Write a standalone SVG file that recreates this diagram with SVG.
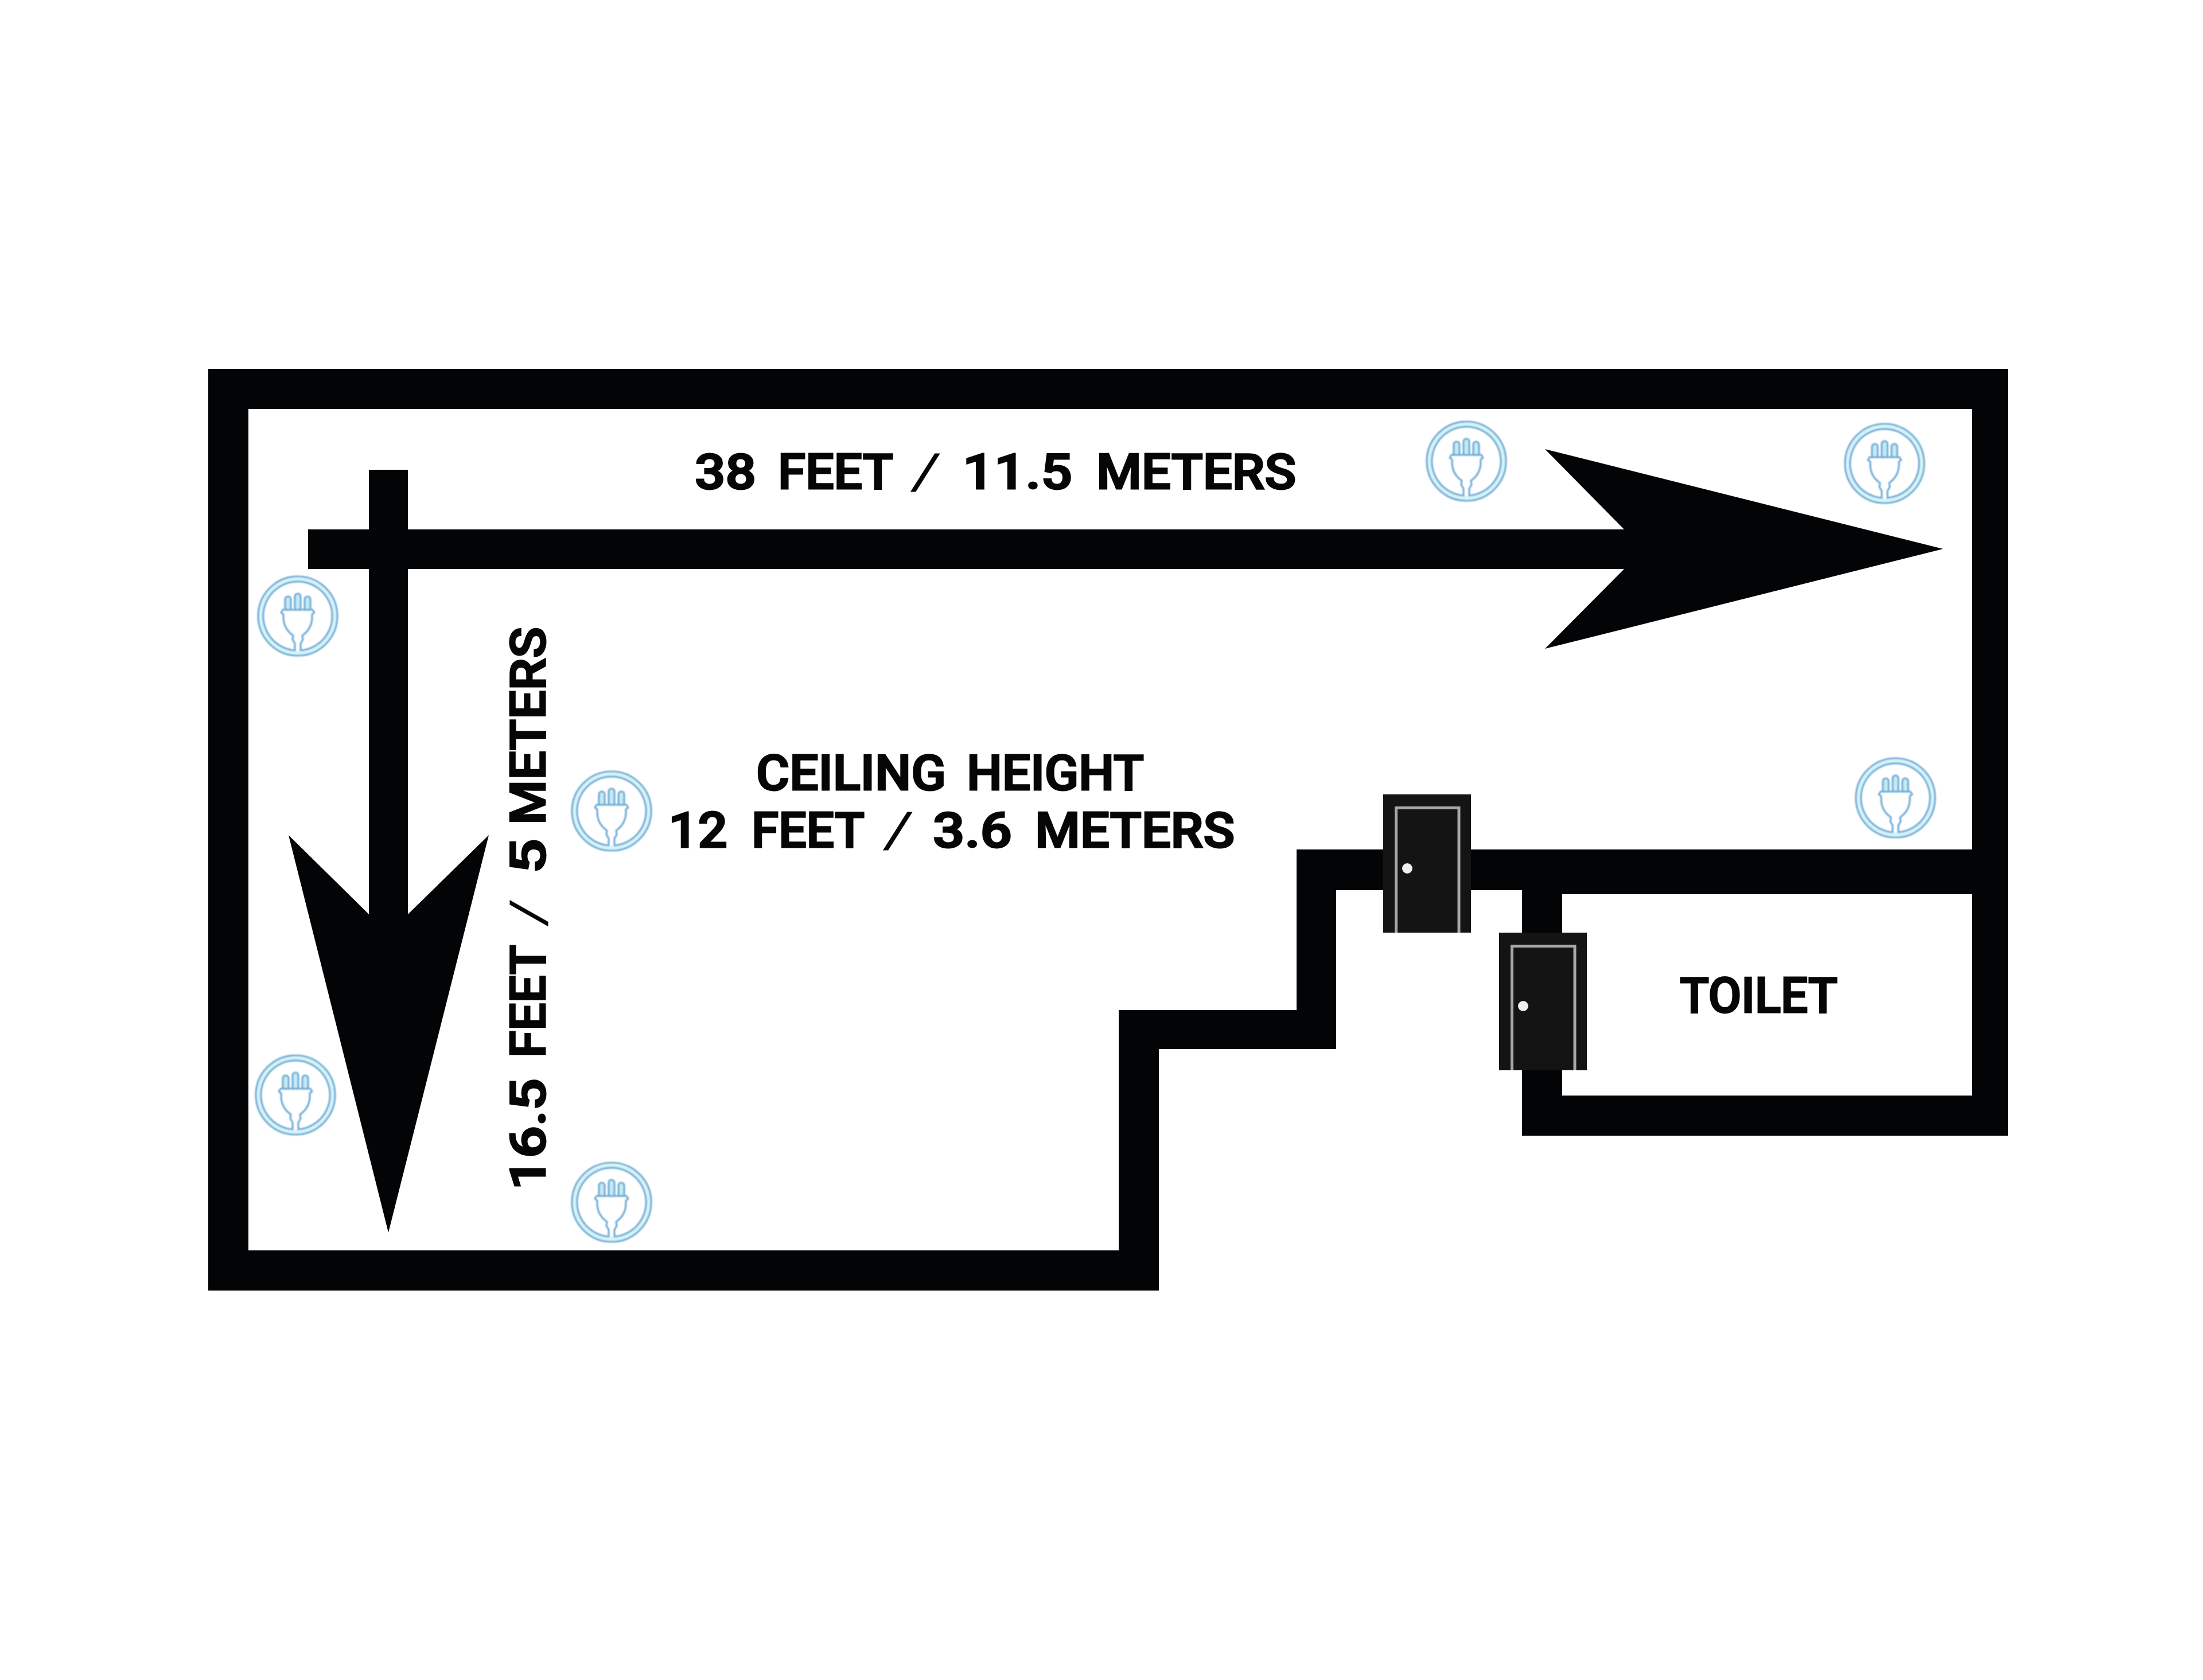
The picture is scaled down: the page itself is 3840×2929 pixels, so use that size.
<svg xmlns="http://www.w3.org/2000/svg" xmlns:xlink="http://www.w3.org/1999/xlink" width="3840" height="2929" viewBox="0 0 3840 2929">
<style>
.wall{fill:#030405;fill-rule:evenodd}
.arrow{fill:#030405}
.frame{fill:#141414}
.leaf{fill:none;stroke:#a8a8a8;stroke-width:5}
.knob{fill:#f0f0f0}
.label{font-family:"Roboto","Liberation Sans",sans-serif;font-weight:500;font-size:85px;fill:#060606;stroke:#060606;stroke-width:3}
.slash{font-weight:300;stroke-width:1}
.ringbg{fill:none;stroke:#d6f4f9;stroke-width:7}
.ln{fill:none;stroke:#6fabd5;stroke-width:3.2;stroke-linejoin:round}
.prong{fill:#c4ecf6;stroke:#6fabd5;stroke-width:3.2;stroke-linejoin:round}
</style>
<defs>
<filter id="soft" x="-10%" y="-10%" width="120%" height="120%"><feGaussianBlur stdDeviation="0.8"/></filter>
<g id="plug" filter="url(#soft)">
<circle class="ringbg" r="64"/>
<circle class="ln" r="69"/>
<path class="ln" d="M5 60 A60.2 60.2 0 1 0 -5 60 L-5 48 L-9 41 L-8 34 C-18 27 -25 17 -25 2 L-25 -3 L-29 -6 L-26 -11 H26 L29 -6 L25 -3 L25 2 C25 17 18 27 8 34 L9 41 L5 48 Z"/>
<path class="prong" d="M-22 -11 V-28 Q-22 -34 -17 -34 Q-12 -34 -12 -28 V-11 Z"/>
<path class="prong" d="M-5 -11 V-33 Q-5 -39 0 -39 Q5 -39 5 -33 V-11 Z"/>
<path class="prong" d="M12 -11 V-28 Q12 -34 17 -34 Q22 -34 22 -28 V-11 Z"/>
</g>
</defs>
<rect width="3840" height="2929" fill="#ffffff"/>
<g id="walls">
<path class="wall" d="M363 643 H3500 V1980 H2653 V1552 H2329 V1829 H2020 V2250 H363 Z M433 713 V2180 H1950 V1761 H2260 V1481 H3437 V713 Z M2723 1559 V1910 H3437 V1559 Z"/>
</g>
<g id="dimension-arrows">
<path id="arrow-length" class="arrow" d="M537 923 H2831 L2693 783 L3387 957 L2693 1131 L2831 992 H537 Z"/>
<path id="arrow-width" class="arrow" d="M643 819 H711 V1594 L852 1456 L677 2149 L503 1456 L643 1594 Z"/>
</g>
<g id="door-main">
<rect class="frame" x="2411" y="1385" width="153" height="241"/>
<path class="leaf" d="M2433.500 1626 V1408.500 H2543 V1626"/>
<circle class="knob" cx="2453" cy="1514" r="9"/>
</g>
<g id="door-toilet">
<rect class="frame" x="2613" y="1626" width="153" height="240"/>
<path class="leaf" d="M2635.500 1866 V1649.500 H2745 V1866"/>
<circle class="knob" cx="2655" cy="1754" r="9"/>
</g>
<g id="outlets">
<use xlink:href="#plug" href="#plug" x="2556" y="804"/>
<use xlink:href="#plug" href="#plug" x="3285" y="808"/>
<use xlink:href="#plug" href="#plug" x="519" y="1074"/>
<use xlink:href="#plug" href="#plug" x="1066" y="1414"/>
<use xlink:href="#plug" href="#plug" x="3304" y="1391"/>
<use xlink:href="#plug" href="#plug" x="515" y="1909"/>
<use xlink:href="#plug" href="#plug" x="1066" y="2096"/>
</g>
<g id="labels">
<text class="label" y="852"><tspan x="1211" textLength="107" lengthAdjust="spacingAndGlyphs">38</tspan> <tspan x="1356" textLength="199" lengthAdjust="spacingAndGlyphs">FEET</tspan> <tspan class="slash" x="1586" textLength="56" lengthAdjust="spacingAndGlyphs">/</tspan> <tspan x="1678" textLength="191" lengthAdjust="spacingAndGlyphs">11.5</tspan> <tspan x="1911" textLength="348" lengthAdjust="spacingAndGlyphs">METERS</tspan></text>
<text class="label" y="1377"><tspan x="1318" textLength="331" lengthAdjust="spacingAndGlyphs">CEILING</tspan> <tspan x="1685" textLength="309" lengthAdjust="spacingAndGlyphs">HEIGHT</tspan></text>
<text class="label" y="1477"><tspan x="1165" textLength="103" lengthAdjust="spacingAndGlyphs">12</tspan> <tspan x="1310" textLength="195" lengthAdjust="spacingAndGlyphs">FEET</tspan> <tspan class="slash" x="1538" textLength="56" lengthAdjust="spacingAndGlyphs">/</tspan> <tspan x="1626" textLength="138" lengthAdjust="spacingAndGlyphs">3.6</tspan> <tspan x="1804" textLength="348" lengthAdjust="spacingAndGlyphs">METERS</tspan></text>
<text class="label" x="2928" y="1765" textLength="275" lengthAdjust="spacingAndGlyphs">TOILET</text>
<text class="label" transform="translate(950 2075) rotate(-90)" y="0"><tspan x="0" textLength="195" lengthAdjust="spacingAndGlyphs">16.5</tspan> <tspan x="231" textLength="195" lengthAdjust="spacingAndGlyphs">FEET</tspan> <tspan class="slash" x="459" textLength="50" lengthAdjust="spacingAndGlyphs">/</tspan> <tspan x="552" textLength="61" lengthAdjust="spacingAndGlyphs">5</tspan> <tspan x="637" textLength="345" lengthAdjust="spacingAndGlyphs">METERS</tspan></text>
</g>
</svg>
